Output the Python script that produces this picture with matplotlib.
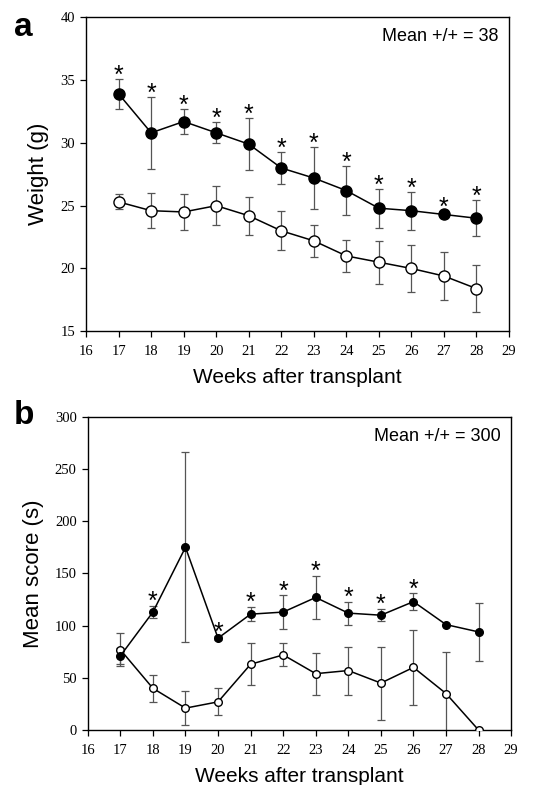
import matplotlib
matplotlib.use("Agg")
import matplotlib.pyplot as plt
import numpy as np

weeks = [17, 18, 19, 20, 21, 22, 23, 24, 25, 26, 27, 28]

# Panel a: weight (g)
wt_filled = [33.9, 30.8, 31.7, 30.8, 29.9, 28.0, 27.2, 26.2, 24.8, 24.6, 24.3, 24.0]
wt_filled_err = [1.2, 2.85, 1.0, 0.85, 2.05, 1.25, 2.45, 1.95, 1.55, 1.5, 0.3, 1.45]
wt_open = [25.3, 24.6, 24.5, 25.0, 24.2, 23.0, 22.2, 21.0, 20.5, 20.0, 19.4, 18.4]
wt_open_err = [0.6, 1.4, 1.4, 1.55, 1.5, 1.55, 1.25, 1.3, 1.7, 1.85, 1.95, 1.9]
wt_star = [True] * 12

# Panel b: mean score (s)
sc_filled = [71, 113, 175, 88, 111, 113, 127, 112, 110, 123, 101, 94]
sc_filled_err = [8, 6, 91, 2, 7, 16, 21, 11, 6, 8, 0, 28]
sc_open = [77, 40, 21, 27, 63, 72, 54, 57, 45, 60, 35, 0]
sc_open_err = [16, 13, 16, 13, 20, 11, 20, 23, 35, 36, 40, 0]
sc_star = [False, True, False, True, True, True, True, True, True, True, False, False]

xticks = list(range(16, 30))

serif = "Liberation Serif"
sans = "Liberation Sans"

fig = plt.figure(figsize=(5.52, 7.85), dpi=100)
ax_a = fig.add_axes([0.156, 0.578, 0.766, 0.400])
ax_b = fig.add_axes([0.159, 0.070, 0.767, 0.399])

def draw(ax, yf, yfe, yo, yoe, stars, ylim, yticks, ylabel, note, ms, star_pad):
    ax.errorbar(weeks, yo, yerr=yoe, fmt='none', ecolor='#555555', elinewidth=0.9,
                capsize=3, capthick=0.9, zorder=2)
    ax.errorbar(weeks, yf, yerr=yfe, fmt='none', ecolor='#555555', elinewidth=0.9,
                capsize=3, capthick=0.9, zorder=2)
    ax.plot(weeks, yo, '-o', color='black', lw=1.1, ms=ms, mfc='white', mec='black',
            mew=1.0, zorder=3)
    ax.plot(weeks, yf, '-o', color='black', lw=1.1, ms=ms, mfc='black', mec='black',
            zorder=4)
    for x, y, e, s in zip(weeks, yf, yfe, stars):
        if s:
            ax.text(x, y + e + star_pad, '*', ha='center', va='bottom',
                    fontsize=18, family=sans)
    ax.set_xlim(16, 29)
    ax.set_ylim(*ylim)
    ax.set_xticks(xticks)
    ax.set_yticks(yticks)
    ax.tick_params(direction='out', length=4, width=0.9, labelsize=10.5)
    ax.tick_params(axis='x', pad=6)
    ax.tick_params(axis='y', pad=4)
    for lab in ax.get_xticklabels() + ax.get_yticklabels():
        lab.set_family(serif)
    for sp in ax.spines.values():
        sp.set_linewidth(1.0)
    ax.set_xlabel('Weeks after transplant', family=sans, fontsize=15, labelpad=7)
    ax.set_ylabel(ylabel, family=sans, fontsize=16, labelpad=8)
    ax.text(0.975, 0.965, note, transform=ax.transAxes, ha='right', va='top',
            family=sans, fontsize=13)

draw(ax_a, wt_filled, wt_filled_err, wt_open, wt_open_err, wt_star,
     (15, 40), [15, 20, 25, 30, 35, 40], 'Weight (g)', 'Mean +/+ = 38', 8, -0.7)
draw(ax_b, sc_filled, sc_filled_err, sc_open, sc_open_err, sc_star,
     (0, 300), [0, 50, 100, 150, 200, 250, 300], 'Mean score (s)', 'Mean +/+ = 300', 5.5, -8)

fig.text(0.025, 0.985, 'a', family=sans, fontsize=24, fontweight='bold', va='top')
fig.text(0.025, 0.490, 'b', family=sans, fontsize=24, fontweight='bold', va='top')

fig.savefig('out.png', dpi=100)
